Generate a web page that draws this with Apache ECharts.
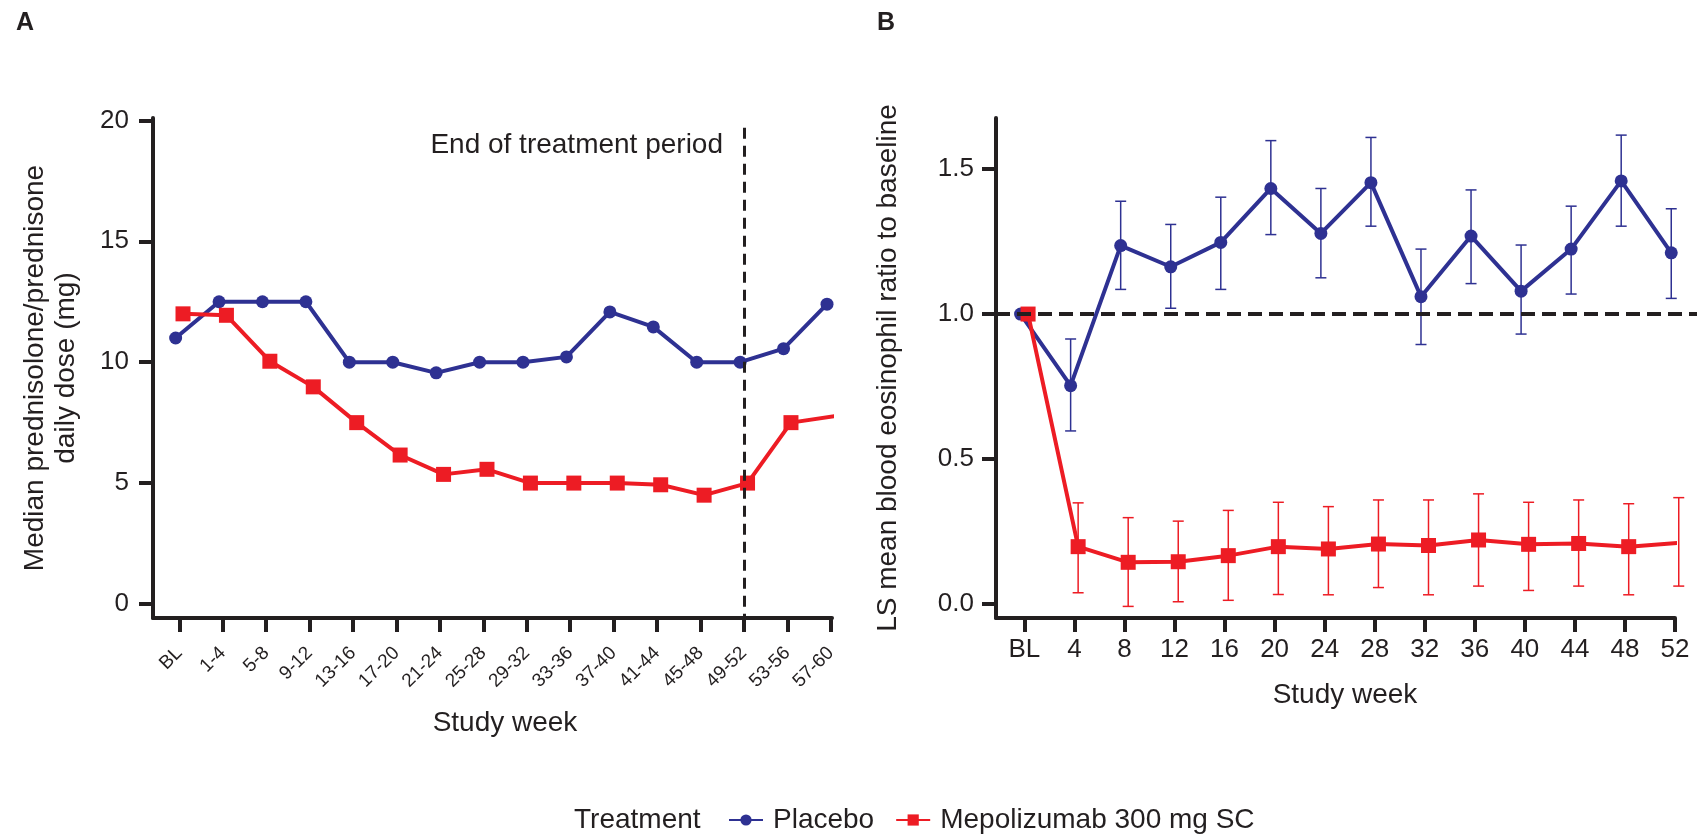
<!DOCTYPE html>
<html><head><meta charset="utf-8">
<script src="https://cdn.jsdelivr.net/npm/echarts@6/dist/echarts.min.js"></script>
<style>html,body{margin:0;padding:0;background:#fff}#c{width:1697px;height:836px}</style>
</head><body><div id="c"></div>
<script>
// ---- Panel A data ----
const weeksA = ['BL','1-4','5-8','9-12','13-16','17-20','21-24','25-28','29-32','33-36','37-40','41-44','45-48','49-52','53-56','57-60'];
const placeboA = [11.0,12.5,12.5,12.5,10.0,10.0,9.56,10.0,10.0,10.22,12.08,11.46,10.0,10.0,10.56,12.4];
const mepoA = [12.0,11.94,10.04,8.98,7.5,6.16,5.36,5.57,5.0,5.0,5.0,4.93,4.5,5.0,7.5,7.77];
const yTicksA = [0,5,10,15,20];
const endOfTreatmentIndex = 13;

// ---- Panel B data ----
const weeksB = ['BL','4','8','12','16','20','24','28','32','36','40','44','48','52'];
const placeboB = [1.0,0.753,1.236,1.163,1.247,1.433,1.278,1.453,1.06,1.269,1.079,1.224,1.459,1.211];
const placeboBLow = [null,0.597,1.085,1.02,1.085,1.274,1.125,1.303,0.895,1.105,0.931,1.069,1.303,1.054];
const placeboBHigh = [null,0.914,1.389,1.309,1.403,1.598,1.433,1.609,1.224,1.428,1.238,1.372,1.617,1.363];
const mepoB = [1.0,0.198,0.144,0.146,0.167,0.198,0.19,0.207,0.202,0.221,0.206,0.209,0.198,0.211];
const mepoBLow = [null,0.039,-0.008,0.008,0.013,0.033,0.032,0.057,0.032,0.062,0.047,0.062,0.032,0.062];
const mepoBHigh = [null,0.349,0.298,0.286,0.323,0.351,0.336,0.359,0.359,0.38,0.351,0.359,0.346,0.367];
const yTicksB = [0,0.5,1.0,1.5];
const baselineRatio = 1.0;

const BLUE = '#2e3192', RED = '#ed1c24', INK = '#231f20';
const FONT = '"Liberation Sans", Arial, sans-serif';
const dodgeA = 0.085, dodgeB = 0.075;

const chart = echarts.init(document.getElementById('c'), null, {renderer: 'canvas'});

const idxA = weeksA.map((_, i) => i);
const idxB = weeksB.map((_, i) => i);

function axisBase() {
  return {
    axisLine: {show: true, onZero: false, lineStyle: {color: INK, width: 4}},
    axisTick: {show: true, length: 14, lineStyle: {color: INK, width: 4}},
    splitLine: {show: false},
    nameTextStyle: {color: INK, fontFamily: FONT, fontSize: 28}
  };
}

function errSeries(name, xAxisIndex, yAxisIndex, lo, hi, color, dodge) {
  const data = [];
  lo.forEach((l, i) => { if (l != null) data.push([i + dodge, l, hi[i]]); });
  return {
    type: 'custom', name, xAxisIndex, yAxisIndex, data, z: 1, silent: true,
    encode: {x: 0, y: [1, 2]},
    renderItem(params, api) {
      const x = api.value(0), l = api.value(1), h = api.value(2);
      const p1 = api.coord([x, l]), p2 = api.coord([x, h]);
      const w = 5.5;
      const style = {stroke: color, lineWidth: 1.5};
      return {type: 'group', children: [
        {type: 'line', shape: {x1: p1[0], y1: p1[1], x2: p2[0], y2: p2[1]}, style},
        {type: 'line', shape: {x1: p1[0] - w, y1: p1[1], x2: p1[0] + w, y2: p1[1]}, style},
        {type: 'line', shape: {x1: p2[0] - w, y1: p2[1], x2: p2[0] + w, y2: p2[1]}, style}
      ]};
    }
  };
}

const option = {
  backgroundColor: '#fff',
  animation: false,
  textStyle: {fontFamily: FONT},
  title: [
    {text: 'A', left: 16, top: 11, padding: 0, textStyle: {fontFamily: FONT, fontSize: 25, fontWeight: 'bold', color: INK}},
    {text: 'B', left: 877, top: 11, padding: 0, textStyle: {fontFamily: FONT, fontSize: 25, fontWeight: 'bold', color: INK}},
    {text: 'Treatment', left: 574, top: 806, padding: 0, textStyle: {fontFamily: FONT, fontSize: 28, fontWeight: 'normal', color: INK}}
  ],
  legend: {
    data: ['Placebo', 'Mepolizumab 300 mg SC'],
    left: 728, top: 806, padding: 0, itemWidth: 34, itemHeight: 14, itemGap: 21,
    textStyle: {fontFamily: FONT, fontSize: 28, color: INK, padding: [0, 0, 0, 5]}
  },
  graphic: [{
    type: 'text', x: 723, y: 145,
    style: {text: 'End of treatment period', align: 'right', verticalAlign: 'middle',
      textAlign: 'right', textVerticalAlign: 'middle',
      fontFamily: FONT, fontSize: 28, fill: INK}
  }],
  grid: [
    {left: 153, top: 118, width: 679, height: 500},
    {left: 996, top: 118, width: 679, height: 500},
    {left: 996, top: 118, right: 0, height: 500}
  ],
  xAxis: [
    Object.assign(axisBase(), {
      gridIndex: 0, type: 'value', min: -0.606, max: 15.03,
      name: 'Study week', nameLocation: 'middle', nameGap: 91,
      nameTextStyle: {color: INK, fontFamily: FONT, fontSize: 28, padding: [0, 0, 0, 25]},
      axisTick: {show: true, length: 14, customValues: idxA, lineStyle: {color: INK, width: 4}},
      axisLabel: {customValues: idxA, rotate: 45, margin: 32, color: INK, fontFamily: FONT, fontSize: 19,
        formatter: v => weeksA[Math.round(v)]}
    }),
    Object.assign(axisBase(), {
      gridIndex: 1, type: 'value', min: -0.566, max: 13.0,
      name: 'Study week', nameLocation: 'middle', nameGap: 63,
      nameTextStyle: {color: INK, fontFamily: FONT, fontSize: 28, padding: [0, 0, 0, 19]},
      axisTick: {show: true, length: 14, customValues: idxB, lineStyle: {color: INK, width: 4}},
      axisLabel: {customValues: idxB, margin: 19, color: INK, fontFamily: FONT, fontSize: 26,
        formatter: v => weeksB[Math.round(v)]}
    }),
    {gridIndex: 2, type: 'value', show: false, min: -0.566, max: 13.45}
  ],
  yAxis: [
    Object.assign(axisBase(), {
      gridIndex: 0, type: 'value', min: -0.58, max: 20.1,
      name: 'Median prednisolone/prednisone\ndaily dose (mg)', nameLocation: 'middle', nameGap: 71,
      nameTextStyle: {color: INK, fontFamily: FONT, fontSize: 28, lineHeight: 31},
      axisTick: {show: true, length: 14, customValues: yTicksA, lineStyle: {color: INK, width: 4}},
      axisLabel: {customValues: yTicksA, margin: 24, color: INK, fontFamily: FONT, fontSize: 26}
    }),
    Object.assign(axisBase(), {
      gridIndex: 1, type: 'value', min: -0.048, max: 1.676,
      name: 'LS mean blood eosinophil ratio to baseline', nameLocation: 'middle', nameGap: 92,
      nameTextStyle: {color: INK, fontFamily: FONT, fontSize: 28, lineHeight: 32},
      axisTick: {show: true, length: 14, customValues: yTicksB, lineStyle: {color: INK, width: 4}},
      axisLabel: {customValues: yTicksB, margin: 22, color: INK, fontFamily: FONT, fontSize: 26,
        formatter: v => v.toFixed(1)}
    }),
    {gridIndex: 2, type: 'value', show: false, min: -0.048, max: 1.676}
  ],
  series: [
    {
      type: 'line', name: 'Placebo', xAxisIndex: 0, yAxisIndex: 0, z: 3,
      data: placeboA.map((v, i) => [i - dodgeA, v]),
      symbol: 'circle', symbolSize: 13, itemStyle: {color: BLUE}, lineStyle: {color: BLUE, width: 4},
      markLine: {
        silent: true, symbol: 'none', label: {show: false},
        lineStyle: {color: INK, width: 3, type: [11, 7]},
        data: [[{coord: [endOfTreatmentIndex, 19.7]}, {coord: [endOfTreatmentIndex, -0.55]}]]
      }
    },
    {
      type: 'line', name: 'Mepolizumab 300 mg SC', xAxisIndex: 0, yAxisIndex: 0, z: 4,
      data: mepoA.map((v, i) => [i + dodgeA, v]),
      symbol: 'rect', symbolSize: 15, itemStyle: {color: RED}, lineStyle: {color: RED, width: 4}
    },
    errSeries('errPlacebo', 1, 1, placeboBLow, placeboBHigh, BLUE, -dodgeB),
    errSeries('errMepo', 1, 1, mepoBLow, mepoBHigh, RED, dodgeB),
    {
      type: 'line', name: 'Placebo', xAxisIndex: 1, yAxisIndex: 1, z: 3,
      data: placeboB.map((v, i) => [i - dodgeB, v]),
      symbol: 'circle', symbolSize: 13, itemStyle: {color: BLUE}, lineStyle: {color: BLUE, width: 4}
    },
    {
      type: 'line', name: 'Mepolizumab 300 mg SC', xAxisIndex: 1, yAxisIndex: 1, z: 4,
      data: mepoB.map((v, i) => [i + dodgeB, v]),
      symbol: 'rect', symbolSize: 15, itemStyle: {color: RED}, lineStyle: {color: RED, width: 4}
    },
    {
      type: 'line', name: 'ref', xAxisIndex: 2, yAxisIndex: 2, z: 2,
      data: [[0, baselineRatio]], symbol: 'none', lineStyle: {opacity: 0}, silent: true,
      markLine: {
        silent: true, symbol: 'none', label: {show: false},
        lineStyle: {color: INK, width: 4, type: [14, 7]},
        data: [[{coord: [-0.566, baselineRatio]}, {coord: [13.45, baselineRatio]}]]
      }
    }
  ]
};
chart.setOption(option);
</script>
</body></html>
